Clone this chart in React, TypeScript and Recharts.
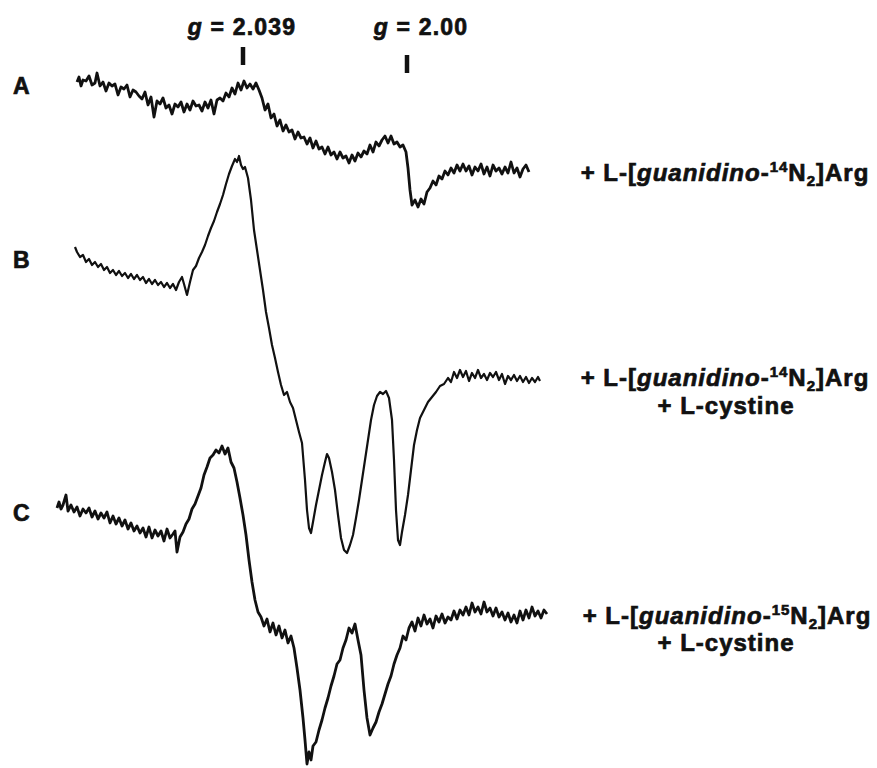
import React from 'react';
import { LineChart, Line, XAxis, YAxis, ReferenceLine } from 'recharts';

// EPR spectra, [field (arb. units), signal (arb. units)]
const traceA: [number, number][] = [
  [77, 28], [79, 33], [81, 24], [83, 30], [86, 29], [89, 34], [92, 25], [95, 27], [97, 37], [100, 24],
  [103, 28], [106, 19], [109, 27], [112, 24], [115, 26], [118, 15], [121, 23], [124, 21], [127, 25], [130, 13],
  [133, 20], [136, 18], [139, 14], [142, 11], [145, 18], [148, 5], [151, 13], [154, -7], [157, 9], [160, 6],
  [163, 12], [166, 2], [169, 5], [172, -4], [175, 6], [178, 3], [181, 8], [184, -2], [187, 6], [190, 0],
  [193, 9], [196, 4], [199, 5], [202, -1], [205, 8], [208, 2], [211, 10], [214, -4], [217, 10], [220, 12],
  [223, 9], [226, 17], [229, 13], [232, 22], [235, 16], [238, 27], [241, 20], [244, 29], [247, 22], [250, 26],
  [253, 21], [256, 27], [259, 20], [262, 12], [265, 0], [268, 6], [271, -8], [274, -4], [277, -16], [280, -10],
  [283, -21], [286, -15], [289, -22], [292, -20], [295, -29], [298, -22], [301, -28], [304, -27], [307, -34], [310, -28],
  [313, -38], [316, -31], [319, -39], [322, -37], [325, -44], [328, -37], [331, -45], [334, -42], [337, -49], [340, -42],
  [343, -48], [346, -46], [349, -53], [352, -45], [355, -51], [358, -43], [361, -47], [364, -41], [367, -44], [370, -35],
  [373, -42], [376, -32], [379, -36], [382, -30], [385, -26], [388, -33], [391, -26], [394, -34], [397, -32], [400, -37],
  [403, -35], [406, -42], [408, -58], [410, -80], [412, -95], [415, -90], [418, -97], [421, -89], [424, -94], [427, -82],
  [430, -78], [433, -71], [436, -75], [439, -66], [442, -69], [445, -61], [448, -65], [451, -58], [454, -63], [457, -55],
  [460, -61], [463, -54], [466, -61], [469, -56], [472, -65], [475, -57], [478, -61], [481, -54], [484, -64], [487, -57],
  [490, -66], [493, -55], [496, -61], [499, -58], [502, -64], [505, -57], [508, -63], [511, -52], [514, -63], [517, -58],
  [520, -67], [523, -59], [526, -55], [529, -62],
];

const traceB: [number, number][] = [
  [75, 33], [77, 28], [80, 23], [83, 25], [86, 18], [89, 21], [92, 15], [95, 18], [98, 13], [101, 16],
  [104, 10], [107, 13], [110, 7], [113, 10], [116, 5], [119, 9], [122, 4], [125, 7], [128, 2], [131, 6],
  [134, 1], [137, 5], [140, 0], [143, 3], [146, -3], [149, 1], [152, -4], [155, 0], [158, -5], [161, -2],
  [164, -7], [167, -3], [170, -8], [173, -4], [176, -10], [179, -2], [182, 3], [184, -4], [187, -15], [190, -2],
  [193, 10], [196, 14], [199, 22], [202, 28], [205, 35], [208, 44], [211, 52], [214, 59], [217, 68], [220, 76],
  [223, 85], [226, 96], [229, 106], [232, 114], [235, 121], [237, 118], [239, 124], [241, 115], [243, 111], [245, 113],
  [248, 102], [251, 80], [254, 50], [257, 30], [260, 10], [263, -10], [266, -32], [269, -48], [272, -65], [275, -78],
  [278, -92], [281, -105], [284, -115], [287, -112], [290, -122], [293, -128], [296, -140], [299, -152], [302, -163], [305, -200],
  [307, -230], [309, -248], [311, -253], [313, -242], [316, -225], [319, -210], [322, -195], [325, -182], [327, -174], [329, -178],
  [332, -192], [335, -210], [338, -235], [341, -258], [344, -270], [347, -273], [350, -265], [353, -255], [356, -238], [359, -220],
  [362, -200], [365, -180], [368, -160], [371, -140], [374, -125], [377, -116], [380, -112], [383, -114], [386, -111], [389, -118],
  [392, -140], [394, -180], [396, -230], [398, -260], [400, -265], [402, -252], [405, -235], [408, -215], [411, -190], [414, -165],
  [417, -150], [420, -138], [424, -130], [428, -122], [432, -117], [436, -112], [440, -106], [444, -104], [448, -98], [451, -102],
  [454, -92], [457, -98], [460, -90], [463, -97], [466, -91], [469, -101], [472, -93], [475, -98], [478, -90], [481, -98],
  [484, -94], [487, -100], [490, -93], [493, -97], [496, -92], [499, -100], [502, -94], [505, -104], [508, -96], [511, -100],
  [514, -95], [517, -101], [520, -96], [523, -102], [526, -97], [529, -103], [532, -98], [535, -102], [538, -97], [540, -101],
];

const traceC: [number, number][] = [
  [57, 32], [59, 38], [61, 31], [63, 35], [66, 45], [68, 29], [71, 35], [74, 28], [77, 33], [80, 24],
  [83, 31], [86, 27], [89, 32], [92, 23], [95, 29], [98, 21], [101, 27], [104, 22], [107, 28], [110, 17],
  [113, 24], [116, 16], [119, 22], [122, 14], [125, 20], [128, 11], [131, 17], [134, 9], [137, 14], [140, 7],
  [143, 12], [146, 3], [149, 13], [152, 2], [155, 10], [158, 4], [161, 9], [164, -1], [167, 11], [170, 2],
  [173, 6], [175, 9], [177, -12], [180, 3], [183, 8], [186, 16], [189, 21], [192, 31], [195, 36], [198, 44],
  [201, 52], [204, 65], [207, 73], [210, 82], [213, 85], [216, 90], [219, 87], [222, 94], [225, 86], [228, 92],
  [231, 78], [234, 72], [237, 58], [240, 42], [243, 25], [246, 5], [249, -20], [252, -42], [255, -60], [258, -72],
  [261, -77], [264, -86], [267, -79], [270, -92], [273, -83], [276, -95], [279, -86], [282, -98], [285, -90], [288, -103],
  [291, -96], [294, -108], [297, -128], [300, -150], [303, -178], [305, -200], [307, -224], [309, -212], [311, -220], [313, -206],
  [316, -202], [319, -190], [322, -180], [325, -168], [328, -158], [331, -146], [334, -136], [337, -124], [340, -120], [343, -108],
  [346, -100], [349, -88], [352, -93], [355, -84], [358, -100], [361, -115], [364, -150], [367, -178], [370, -195], [373, -188],
  [376, -182], [379, -172], [382, -164], [385, -154], [388, -144], [391, -136], [394, -124], [397, -115], [400, -108], [403, -96],
  [406, -100], [409, -88], [412, -82], [415, -91], [418, -78], [421, -86], [424, -75], [427, -84], [430, -79], [433, -88],
  [436, -76], [439, -82], [442, -74], [445, -83], [448, -77], [451, -80], [454, -71], [457, -79], [460, -70], [463, -75],
  [466, -67], [469, -75], [472, -63], [475, -72], [478, -67], [481, -74], [484, -62], [487, -72], [490, -68], [493, -76],
  [496, -68], [499, -77], [502, -72], [505, -80], [508, -73], [511, -82], [514, -75], [517, -83], [520, -71], [523, -80],
  [526, -70], [529, -78], [532, -67], [535, -76], [538, -71], [541, -78], [544, -70], [547, -74],
];

// field positions of the marked g values
const gMarkers = [
  { label: '2.039', field: 243 },
  { label: '2.00', field: 407 },
];

const W = 877;
const H = 768;
// vertical stacking of the three spectra
const OFFSET = { A: -110, B: -280, C: -540 };
const FONT = '"Liberation Sans", Arial, Helvetica, sans-serif';

const toPoints = (arr: [number, number][], offset: number) =>
  arr.map(([x, v]) => ({ x, y: v + offset }));

const ArgLabel = ({ iso }: { iso: string }) => (
  <>
    <tspan>+ L-[</tspan>
    <tspan fontStyle="italic">guanidino</tspan>
    <tspan>-</tspan>
    <tspan fontSize={15} dy={-9}>{iso}</tspan>
    <tspan dy={9}>N</tspan>
    <tspan fontSize={15} dy={5}>2</tspan>
    <tspan dy={-5}>]Arg</tspan>
  </>
);

export default function App() {
  const common = { stroke: '#111', dot: false, activeDot: false, isAnimationActive: false, type: 'linear' as const, strokeLinejoin: 'round' as const };

  return (
    <div style={{ position: 'absolute', left: 0, top: 0, width: W, height: H, background: '#fff' }}>
      <LineChart width={W} height={H} margin={{ top: 0, right: 0, bottom: 0, left: 0 }}>
        <XAxis type="number" dataKey="x" domain={[0, W]} hide allowDataOverflow />
        <YAxis type="number" dataKey="y" domain={[-H, 0]} hide allowDataOverflow />
        <Line data={toPoints(traceA, OFFSET.A)} dataKey="y" strokeWidth={2.8} {...common} />
        <Line data={toPoints(traceB, OFFSET.B)} dataKey="y" strokeWidth={2.2} {...common} />
        <Line data={toPoints(traceC, OFFSET.C)} dataKey="y" strokeWidth={2.8} {...common} />
        <ReferenceLine
          segment={[{ x: gMarkers[0].field, y: -47 }, { x: gMarkers[0].field, y: -65 }]}
          stroke="#111"
          strokeWidth={4.5}
        />
        <ReferenceLine
          segment={[{ x: gMarkers[1].field, y: -55 }, { x: gMarkers[1].field, y: -73 }]}
          stroke="#111"
          strokeWidth={4.5}
        />
      </LineChart>

      <svg
        width={W}
        height={H}
        style={{ position: 'absolute', left: 0, top: 0, pointerEvents: 'none' }}
        fontFamily={FONT}
        fontWeight="bold"
        fill="#111"
        stroke="#111"
        strokeWidth={0.7}
      >
        {gMarkers.map((g, i) => (
          <text key={g.label} x={i === 0 ? 242 : 421} y={35} fontSize={23} textAnchor="middle" letterSpacing={1.2}>
            <tspan fontStyle="italic">g</tspan>
            <tspan> = {g.label}</tspan>
          </text>
        ))}

        <text x={13} y={94} fontSize={23}>A</text>
        <text x={13} y={268} fontSize={23}>B</text>
        <text x={13} y={521} fontSize={23}>C</text>

        <g fontSize={24} textAnchor="middle" letterSpacing={1}>
          <text x={725} y={181}><ArgLabel iso="14" /></text>
          <text x={725} y={386}><ArgLabel iso="14" /></text>
          <text x={726} y={414}>+ L-cystine</text>
          <text x={727} y={624}><ArgLabel iso="15" /></text>
          <text x={726} y={651}>+ L-cystine</text>
        </g>
      </svg>
    </div>
  );
}
